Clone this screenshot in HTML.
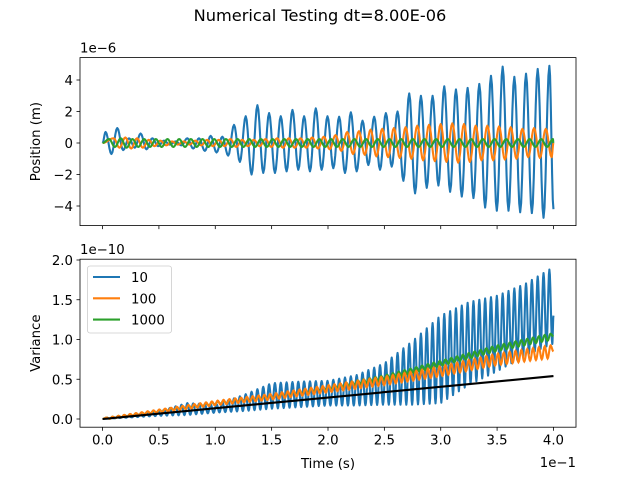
<!DOCTYPE html>
<html><head><meta charset="utf-8"><style>
body{margin:0;background:#fff}
svg{display:block;font-family:"DejaVu Sans","Liberation Sans",sans-serif}
</style></head><body>
<svg id="fig" width="640" height="480" viewBox="0 0 640 480" xmlns="http://www.w3.org/2000/svg">
<defs>
<clipPath id="c1"><rect x="80" y="57.6" width="496" height="168"/></clipPath>
<clipPath id="c2"><rect x="80" y="259.2" width="496" height="168"/></clipPath>
</defs>
<rect width="640" height="480" fill="#fff"/>
<text x="320" y="21" font-size="16.2" text-anchor="middle">Numerical Testing dt=8.00E-06</text>
<g id="top"></g>
<g id="bot"></g>
</svg>
<script>
// ---- data ----
const xTicks=[0,0.5,1.0,1.5,2.0,2.5,3.0,3.5,4.0]; // in 1e-1 s
const topYTicks=[-4,-2,0,2,4]; // 1e-6
const botYTicks=[0.0,0.5,1.0,1.5,2.0]; // 1e-10
const seriesNames=["10","100","1000"];
// top: blue peaks & troughs per cycle (1e-6 m)
const bluePeaks=[0.7,0.95,0.3,0.6,0.3,0.15,0.1,0.3,0.3,0.45,0.4,1.15,1.7,2.4,1.9,1.7,2.1,1.7,2.2,1.7,1.67,1.95,1.42,1.67,1.9,2.0,3.15,3.0,3.0,3.6,3.4,3.5,3.75,4.27,4.85,4.2,4.4,4.7,4.9];
const blueTroughs=[-0.7,-0.45,-0.3,-0.4,-0.2,-0.1,-0.15,-0.35,-0.5,-0.6,-0.8,-1.2,-2.0,-1.9,-1.9,-1.8,-1.7,-1.8,-1.7,-1.6,-1.9,-1.8,-1.4,-1.7,-1.5,-2.4,-3.2,-2.85,-2.7,-3.1,-3.4,-3.5,-4.1,-4.3,-4.3,-4.4,-4.45,-4.75];
const blueEnd=-4.2;
const orangeAmp=[0.3,0.35,0.3,0.2,0.15,0.1,0.1,0.15,0.2,0.2,0.25,0.2,0.2,0.25,0.3,0.3,0.3,0.35,0.4,0.5,0.7,0.75,0.85,0.9,0.95,1.0,1.1,1.15,1.2,1.25,1.2,1.1,1.1,1.05,1.0,0.9,0.95,0.9,0.8];
const greenAmp=[0.25,0.3,0.25,0.25,0.25,0.25,0.25,0.25,0.25,0.25,0.25,0.25,0.25,0.25,0.25,0.25,0.25,0.25,0.25,0.25,0.25,0.25,0.25,0.25,0.25,0.25,0.25,0.25,0.25,0.25,0.25,0.25,0.25,0.25,0.25,0.25,0.25,0.25,0.25];
// bottom (1e-10), sampled at t = 0..0.4 step 0.025
const envT=[0,0.025,0.05,0.075,0.1,0.125,0.15,0.175,0.2,0.225,0.25,0.275,0.3,0.325,0.35,0.375,0.4];
const blueVarHigh=[0,0.04,0.1,0.2,0.18,0.3,0.45,0.47,0.48,0.55,0.7,0.98,1.3,1.47,1.55,1.7,1.91];
const blueVarLow=[0,0.02,0.04,0.05,0.08,0.1,0.13,0.15,0.17,0.17,0.18,0.18,0.2,0.43,0.6,0.8,0.95];
const midT=[0,0.05,0.1,0.15,0.2,0.25,0.3,0.35,0.4];
const orangeVar=[0,0.1,0.2,0.28,0.38,0.48,0.6,0.75,0.85];
const greenVar=[0,0.1,0.2,0.28,0.39,0.52,0.7,0.89,1.04];
const blackT=[0,0.4];
const blackVar=[0,0.54];

const C=["#1f77b4","#ff7f0e","#2ca02c"];
const NS="http://www.w3.org/2000/svg";
const L=80,R=576,FS=13.3;
const xS=t=>L+(t+0.02)/0.44*(R-L);
const topY=v=>143-v*15.75, botY=v=>419-v*79.5;
const P=0.01036,T0=0.0027;
function mk(tag,a,p){const e=document.createElementNS(NS,tag);for(const k in a)e.setAttribute(k,a[k]);p.appendChild(e);return e;}
function lerp(ts,vs,t){for(let i=0;i<ts.length-1;i++){if(t<=ts[i+1]){const f=(t-ts[i])/(ts[i+1]-ts[i]);return vs[i]+f*(vs[i+1]-vs[i]);}}return vs[vs.length-1];}
function cosPath(pts,yf){
  let d="";pts.sort((a,b)=>a[0]-b[0]);
  for(let i=0;i<pts.length-1;i++){const[a,va]=pts[i],[b,vb]=pts[i+1];
    for(let s=0;s<=6;s++){const f=s/6,t=a+(b-a)*f,v=va+(vb-va)*(1-Math.cos(Math.PI*f))/2;
      d+=(d?"L":"M")+xS(t).toFixed(2)+","+yf(v).toFixed(2);}}
  return d;}
function ampPts(amp,off){const pts=[[0,0]];
  for(let k=0;k<amp.length;k++){const tp=T0+(k+off)*P,tt=tp+P/2;
    if(tp>0&&tp<0.4)pts.push([tp,amp[k]]);if(tt>0&&tt<0.4)pts.push([tt,-amp[k]]);}
  pts.push([0.4,0]);return pts;}

function axes(g,y0,y1,yTicks,yf,fmt,showX,clip,ylabel,off){
  mk("rect",{x:L,y:y0,width:R-L,height:y1-y0,fill:"#fff"},g);
  xTicks.forEach(v=>{const x=xS(v/10);const t=mk("line",{x1:x,x2:x,y1:y1,y2:y1+3.5,stroke:"#000","stroke-width":0.8},g);
    
    if(showX){const l=mk("text",{x:x,y:y1+17.5,"font-size":FS,"text-anchor":"middle"},g);l.textContent=v.toFixed(1);
      }});
  yTicks.forEach(v=>{const y=yf(v);mk("line",{x1:L-3.5,x2:L,y1:y,y2:y,stroke:"#000","stroke-width":0.8},g);
    const l=mk("text",{x:L-7,y:y+5,"font-size":FS,"text-anchor":"end"},g);l.textContent=fmt(v);
    });
  const o=mk("text",{x:L,y:y0-5,"font-size":FS},g);o.textContent=off;
  
  const yl=mk("text",{x:0,y:0,"font-size":FS,"text-anchor":"middle",transform:`translate(40,${(y0+y1)/2}) rotate(-90)`},g);yl.textContent=ylabel;
  
  return mk("g",{"clip-path":`url(#${clip})`},g);}
function frame(g,y0,y1){mk("rect",{x:L,y:y0,width:R-L,height:y1-y0,fill:"none",stroke:"#000","stroke-width":0.8},g);}

// top
const gt=document.getElementById("top");
const pt=axes(gt,57.6,225.6,topYTicks,topY,v=>(v<0?"\u2212"+(-v):""+v),false,"c1","Position (m)","1e\u22126");
let bp=[[0,0]];bluePeaks.forEach((v,k)=>bp.push([T0+k*P,v]));blueTroughs.forEach((v,k)=>bp.push([T0+(k+0.5)*P,v]));bp=bp.filter(p=>p[0]<0.4);bp.push([0.4,blueEnd]);
let e=mk("path",{d:cosPath(bp,topY),fill:"none",stroke:C[0],"stroke-width":2.1,"stroke-linejoin":"round"},pt);

e=mk("path",{d:cosPath(ampPts(orangeAmp,0.69),topY),fill:"none",stroke:C[1],"stroke-width":2.1,"stroke-linejoin":"round"},pt);

e=mk("path",{d:cosPath(ampPts(greenAmp,0.3),topY),fill:"none",stroke:C[2],"stroke-width":2.1,"stroke-linejoin":"round"},pt);

frame(gt,57.6,225.6);

// bottom
const gb=document.getElementById("bot");
const pb=axes(gb,259.2,427.2,botYTicks,botY,v=>v.toFixed(1),true,"c2","Variance","1e\u221210");
const Q=P/2;let vp=[[0,0]];
for(let k=0;;k++){const th=T0+k*Q,tl=th+Q/2;if(th>=0.4)break;vp.push([th,lerp(envT,blueVarHigh,th)]);if(tl<0.4)vp.push([tl,lerp(envT,blueVarLow,tl)]);}
vp.push([0.4,1.3]);
e=mk("path",{d:cosPath(vp,botY),fill:"none",stroke:C[0],"stroke-width":2.1,"stroke-linejoin":"round"},pb);

function osc(mid,a0,a1){let p=[[0,0]];for(let k=0;;k++){const th=T0+0.2*Q+k*Q,tl=th+Q/2;if(th>=0.4)break;const f=th/0.4;
  p.push([th,lerp(midT,mid,th)+(a0+(a1-a0)*f)]);if(tl<0.4)p.push([tl,lerp(midT,mid,tl)-(a0+(a1-a0)*f)]);}
  p.push([0.4,mid[mid.length-1]]);return p;}
e=mk("path",{d:cosPath(osc(greenVar,0.01,0.04),botY),fill:"none",stroke:C[2],"stroke-width":2.1},pb);

e=mk("path",{d:cosPath(osc(orangeVar,0.01,0.08),botY),fill:"none",stroke:C[1],"stroke-width":2.1},pb);

e=mk("path",{d:"M"+xS(blackT[0])+","+botY(blackVar[0])+"L"+xS(blackT[1])+","+botY(blackVar[1]),stroke:"#000","stroke-width":2.1},pb);

frame(gb,259.2,427.2);
// legend
const lg=mk("g",{},gb);

mk("rect",{x:87.5,y:266,width:84,height:67,rx:2.5,fill:"#fff","fill-opacity":0.8,stroke:"#ccc","stroke-width":0.8},lg);
seriesNames.forEach((n,i)=>{const y=277+i*21.3;
  const ln=mk("line",{x1:93,x2:120,y1:y,y2:y,stroke:C[i],"stroke-width":2.1},lg);
  
  const t=mk("text",{x:131,y:y+5,"font-size":FS},lg);t.textContent=n;
  });
const xl=mk("text",{x:328,y:468,"font-size":FS,"text-anchor":"middle"},gb);xl.textContent="Time (s)";

const xo=mk("text",{x:576,y:467,"font-size":FS,"text-anchor":"end"},gb);xo.textContent="1e\u22121";

</script>
</body></html>
